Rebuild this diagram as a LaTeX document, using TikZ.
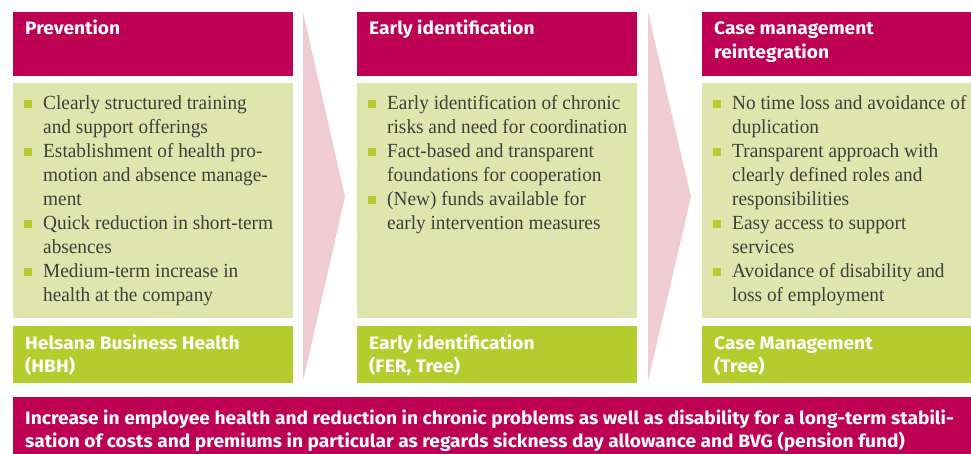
\documentclass[tikz,border=0pt]{standalone}
\usepackage{fontspec}
\setmainfont{Liberation Serif}[FakeStretch=0.965]
\newfontfamily\headfont{Fira Sans}[FakeStretch=1.065]
\usetikzlibrary{positioning}

\definecolor{hsmagenta}{RGB}{190,0,84}
\definecolor{hslight}{RGB}{222,230,174}
\definecolor{hslime}{RGB}{181,204,46}
\definecolor{hspink}{RGB}{239,203,210}
\definecolor{hstext}{RGB}{62,62,62}

% square bullet and top-aligned line stack
\newcommand{\bul}{\textcolor{hslime}{\rule[2pt]{7.5pt}{7.5pt}}}
\newcommand{\lines}[1]{\begin{tabular}[t]{@{}l@{}}#1\end{tabular}}
\newcommand{\items}[1]{\begin{tabular}[t]{@{}p{7.5pt}@{\hspace{11.5pt}}l@{}}#1\end{tabular}}

\tikzset{
  headbox/.style={fill=hsmagenta,anchor=north west,minimum width=280pt,minimum height=64pt,inner sep=0pt},
  bodybox/.style={fill=hslight,anchor=north west,minimum width=280pt,minimum height=235pt,inner sep=0pt},
  footbox/.style={fill=hslime,anchor=north west,minimum width=280pt,minimum height=57pt,inner sep=0pt},
  headtext/.style={anchor=base west,inner sep=0pt,text=white,font=\headfont\bfseries\fontsize{18}{23.5}\selectfont},
  bodytext/.style={anchor=base west,inner sep=0pt,text=hstext,font=\fontsize{20}{24}\selectfont},
}

\begin{document}
\begin{tikzpicture}[x=1pt,y=-1pt]
  \useasboundingbox (0,0) rectangle (971,454);
  % chevrons between the stages
  \fill[hspink] (303,12) -- (345,197) -- (303,381) -- cycle;
  \fill[hspink] (648,12) -- (691,197) -- (648,381) -- cycle;
  \begin{scope}[xshift=13pt]
    \node[headbox] (prevhead) at (0,12) {};
    \node[headtext] (prevtitle) at (12,35) {Prevention};
    \node[bodybox] (prevbody) at (0,83) {};
    \node[bodytext] (prevlist) at (11,110) {\items{%
      \bul & Clearly structured training\\
           & and support offerings\\
      \bul & Establishment of health pro-\\
           & motion and absence manage-\\
           & ment\\
      \bul & Quick reduction in short-term\\
           & absences\\
      \bul & Medium-term increase in\\
           & health at the company}};
    \node[footbox] (prevfoot) at (0,326) {};
    \node[headtext] (prevtool) at (12,349) {\lines{Helsana Business Health\\(HBH)}};
  \end{scope}
  \begin{scope}[xshift=357pt]
    \node[headbox] (earlyhead) at (0,12) {};
    \node[headtext] (earlytitle) at (12,35) {Early identification};
    \node[bodybox] (earlybody) at (0,83) {};
    \node[bodytext] (earlylist) at (11,110) {\items{%
      \bul & Early identification of chronic\\
           & risks and need for coordination\\
      \bul & Fact-based and transparent\\
           & foundations for cooperation\\
      \bul & (New) funds available for\\
           & early intervention measures}};
    \node[footbox] (earlyfoot) at (0,326) {};
    \node[headtext] (earlytool) at (12,349) {\lines{Early identification\\(FER, Tree)}};
  \end{scope}
  \begin{scope}[xshift=702pt]
    \node[headbox,minimum width=269pt] (casehead) at (0,12) {};
    \node[headtext] (casetitle) at (12,35) {\lines{Case management\\reintegration}};
    \node[bodybox,minimum width=269pt] (casebody) at (0,83) {};
    \node[bodytext] (caselist) at (11,110) {\items{%
      \bul & No time loss and avoidance of\\
           & duplication\\
      \bul & Transparent approach with\\
           & clearly defined roles and\\
           & responsibilities\\
      \bul & Easy access to support\\
           & services\\
      \bul & Avoidance of disability and\\
           & loss of employment}};
    \node[footbox,minimum width=269pt] (casefoot) at (0,326) {};
    \node[headtext] (casetool) at (12,349) {\lines{Case Management\\(Tree)}};
  \end{scope}
  % overall goal
  \node[headbox,minimum width=958pt,minimum height=57pt] (goal) at (13,397) {};
  \node[headtext] (goaltext) at (25,424) {\lines{Increase in employee health and reduction in chronic problems as well as disability for a long-term stabili-\\sation of costs and premiums in particular as regards sickness day allowance and BVG (pension fund)}};
\end{tikzpicture}
\end{document}
